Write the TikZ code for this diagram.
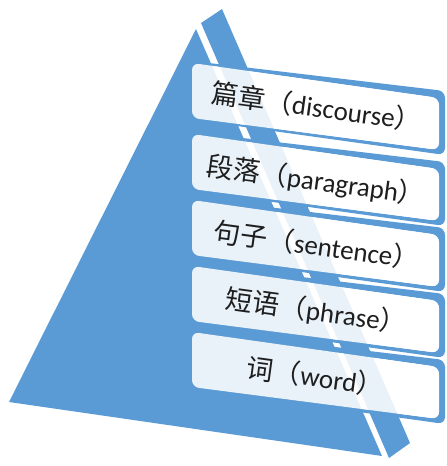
\documentclass[tikz,border=0pt]{standalone}
\usepackage{fontspec}
\setmainfont{Carlito}
\newfontfamily\cjk{Noto Sans CJK SC}
\definecolor{pyr}{HTML}{5B9BD5}
\definecolor{bxblue}{HTML}{5B9BD5}
\definecolor{txt}{HTML}{1E1E1E}
\tikzset{
  lbl/.style={anchor=west, inner sep=0pt, rotate=-7.8, text=txt, font=\fontsize{27}{31}\selectfont},
  face/.style={fill=pyr},
}
\newcommand\levelbox[1]{%
  \fill[bxblue, even odd rule, rounded corners=7pt]
    (192,{#1-2}) -- (445,{#1+28}) -- (445,{#1+92}) -- (194,{#1+57}) -- cycle
    (192,{#1}) -- (439,{#1+35}) -- (439,{#1+87}) -- (192,{#1+55}) -- cycle;
  \fill[white, fill opacity=0.87, rounded corners=7pt]
    (192,{#1}) -- (439,{#1+35}) -- (439,{#1+87}) -- (192,{#1+55}) -- cycle;
}
\begin{document}
\begin{tikzpicture}[x=1pt,y=-1pt]
\useasboundingbox (0,0) rectangle (447,466);
% pyramid faces
\fill[face] (196,29) -- (9,402) -- (382,456) -- cycle;
\fill[face] (201,23) -- (222,9) -- (410,443) -- (389,458) -- cycle;
% level boxes
\levelbox{63}
\levelbox{134}
\levelbox{200}
\levelbox{266}
\levelbox{332}
% labels
\node[lbl] (l1) at (212,92.5) {{\cjk 篇章（}discourse{\cjk ）}};
\node[lbl] (l2) at (207,166) {{\cjk 段落（}paragraph{\cjk ）}};
\node[lbl] (l3) at (214,231) {{\cjk 句子（}sentence{\cjk ）}};
\node[lbl] (l4) at (226,299) {{\cjk 短语（}phrase{\cjk ）}};
\node[lbl] (l5) at (247,367) {{\cjk 词（}word{\cjk ）}};
\end{tikzpicture}
\end{document}
